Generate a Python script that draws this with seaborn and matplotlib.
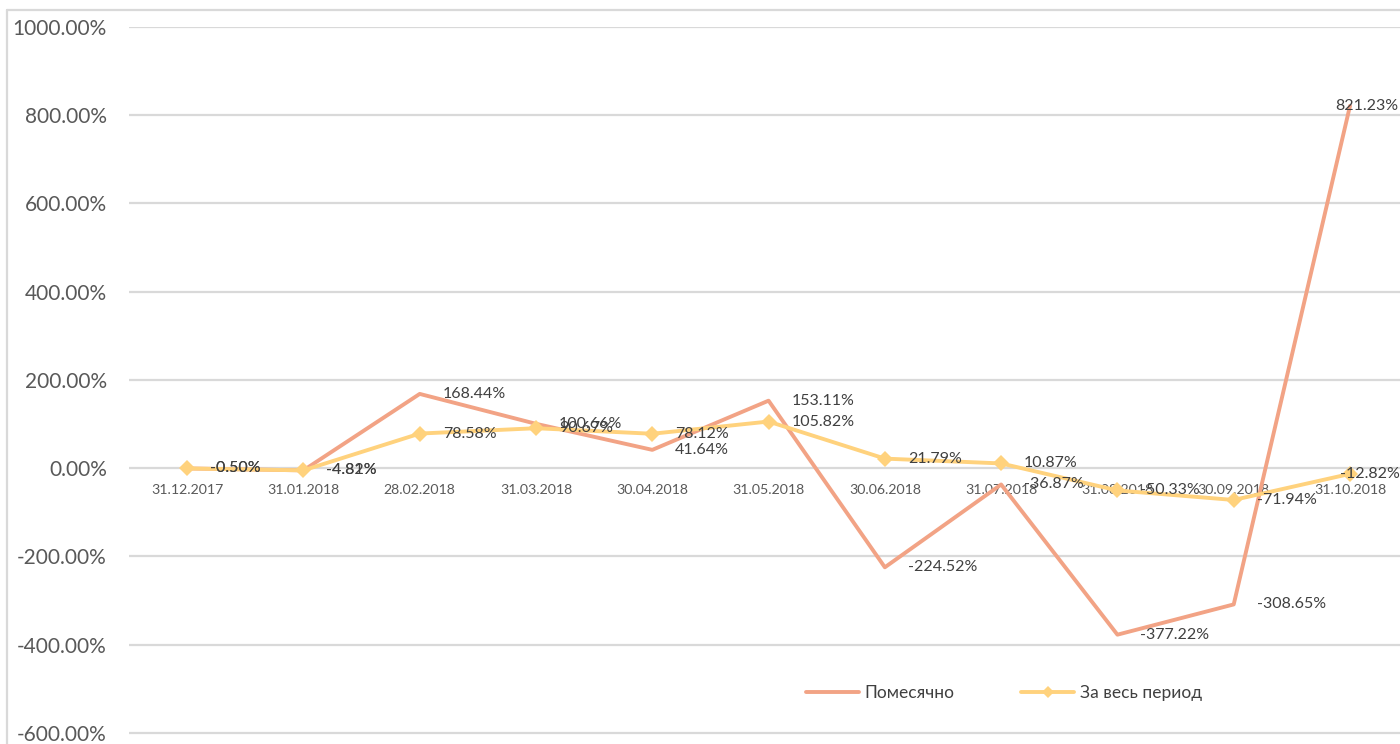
import matplotlib
matplotlib.use("Agg")
import matplotlib.pyplot as plt
from matplotlib.lines import Line2D
from matplotlib.ticker import FuncFormatter, MultipleLocator
import seaborn as sns

# Return series, in percent
dates = ["31.12.2017", "31.01.2018", "28.02.2018", "31.03.2018", "30.04.2018",
         "31.05.2018", "30.06.2018", "31.07.2018", "31.08.2018", "30.09.2018",
         "31.10.2018"]
monthly = [-0.50, -4.81, 168.44, 100.66, 41.64, 153.11, -224.52, -36.87,
           -377.22, -308.65, 821.23]
cumulative = [-0.50, -4.82, 78.58, 90.67, 78.12, 105.82, 21.79, 10.87,
              -50.33, -71.94, -12.82]
series_names = ["Помесячно", "За весь период"]

sns.set_theme(style="white")
plt.rcParams["font.family"] = ["Lato", "Open Sans", "DejaVu Sans"]

W, H = 1400, 744
fig = plt.figure(figsize=(W / 100, H / 100), dpi=100)
ax = fig.add_axes([129 / W, 0, (W - 129) / W, (H - 27) / H])

c_month = "#F2A385"
c_cum = "#FFD27D"
txt = "#404040"
axis_txt = "#595959"

x = list(range(len(dates)))
sns.lineplot(x=x, y=monthly, ax=ax, color=c_month, linewidth=2.8,
             sort=False, label=series_names[0], zorder=3)
sns.lineplot(x=x, y=cumulative, ax=ax, color=c_cum, linewidth=2.8,
             marker="D", markersize=8, markeredgewidth=0, sort=False,
             label=series_names[1], zorder=4)

ax.set_xlim(-0.5, 10.43)
ax.set_ylim(-625, 1000)
ax.yaxis.set_major_locator(MultipleLocator(200))
ax.yaxis.set_major_formatter(FuncFormatter(lambda v, p: f"{v:.2f}%"))
ax.grid(axis="y", color="#D9D9D9", linewidth=1.6)
ax.set_axisbelow(True)

ax.set_xticks(x)
ax.set_xticklabels(dates)
for s in ["top", "right", "left"]:
    ax.spines[s].set_visible(False)
ax.spines["bottom"].set_position(("data", 0))
ax.spines["bottom"].set_visible(False)
ax.tick_params(axis="x", length=0, pad=11, labelsize=10.2, labelcolor=axis_txt)
ax.tick_params(axis="y", length=0, pad=16, labelsize=15, labelcolor=axis_txt)

# Value labels beside each point (the last ones are pulled back inside the frame)
last = len(dates) - 1
for i, (m, c) in enumerate(zip(monthly, cumulative)):
    dx_m = -15 if i == last else 23
    dx_c = -10 if i == last else 23
    ax.annotate(f"{m:.2f}%", (i, m), xytext=(dx_m, 0), textcoords="offset pixels",
                ha="left", va="center", fontsize=11.5, color=txt, zorder=6)
    ax.annotate(f"{c:.2f}%", (i, c), xytext=(dx_c, 0), textcoords="offset pixels",
                ha="left", va="center", fontsize=11.5, color=txt, zorder=6)

ax.get_legend().remove()
handles = [Line2D([], [], color=c_month, linewidth=2.8),
           Line2D([], [], color=c_cum, linewidth=2.8, marker="D",
                  markersize=6, markeredgewidth=0)]
fig.legend(handles, series_names, loc="center left",
           bbox_to_anchor=(790 / W, 1 - 693 / H), ncol=2, frameon=False,
           fontsize=12.5, labelcolor=txt, handlelength=3.1,
           handletextpad=0.3, columnspacing=3.8)

# Chart-area border
fig.add_artist(Line2D([7 / W, 7 / W], [0, 1 - 10 / H], transform=fig.transFigure,
                      color="#D9D9D9", linewidth=1.6))
fig.add_artist(Line2D([7 / W, 1], [1 - 10 / H, 1 - 10 / H], transform=fig.transFigure,
                      color="#D9D9D9", linewidth=1.6))

fig.savefig("out.png", dpi=100)
